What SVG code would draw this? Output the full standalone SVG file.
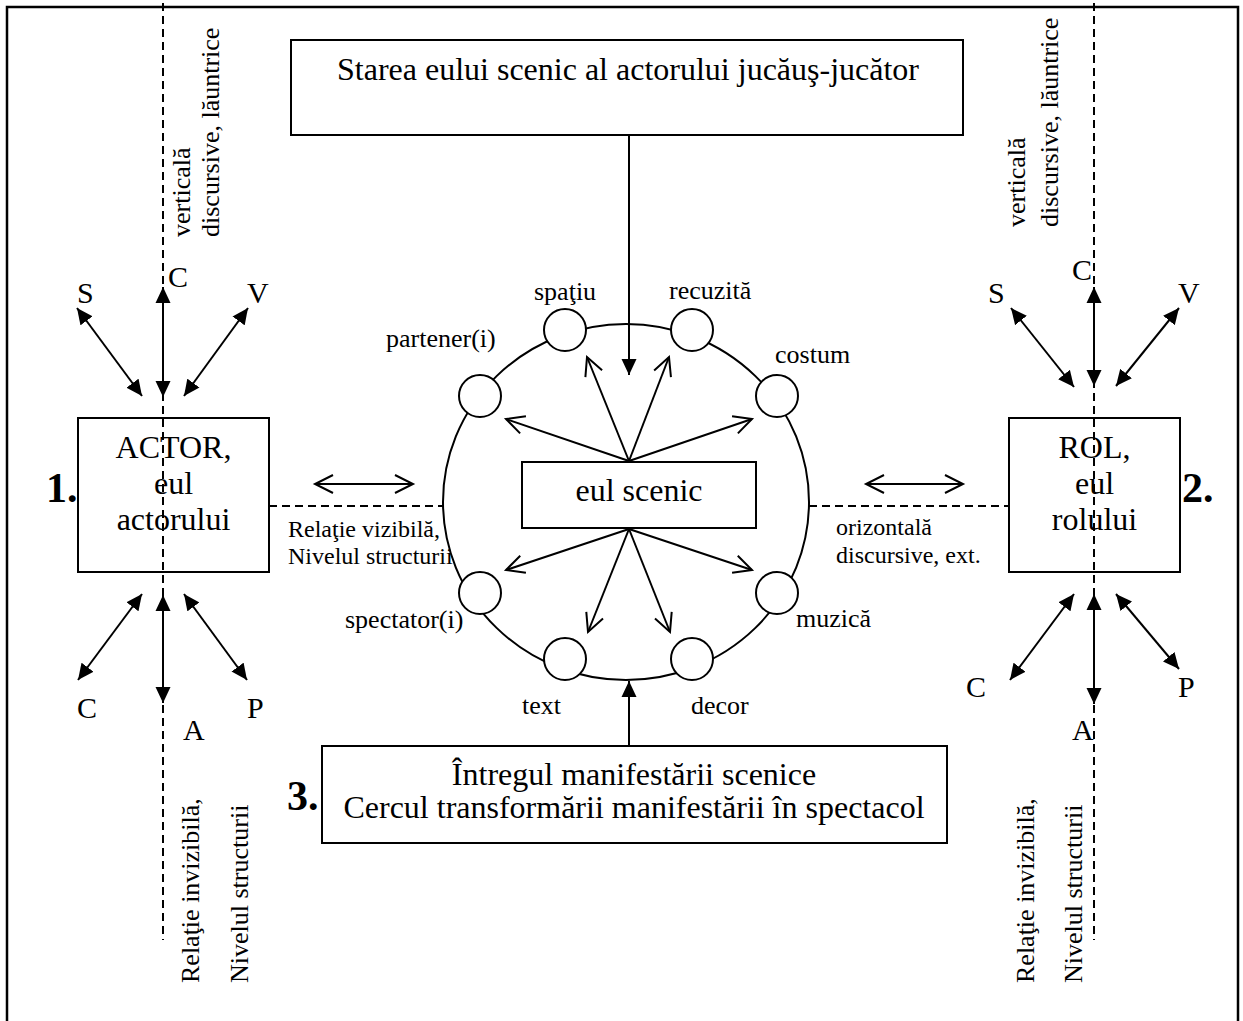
<svg xmlns="http://www.w3.org/2000/svg" width="1243" height="1021" viewBox="0 0 1243 1021">
<defs>
<style>
text{font-family:"Liberation Serif","Times New Roman",serif;fill:#000}
.box{fill:none;stroke:#000;stroke-width:2}
.ln{stroke:#000;stroke-width:2;fill:none}
.dash{stroke:#000;stroke-width:2;stroke-dasharray:8 5;fill:none}
.dbl{marker-start:url(#fa);marker-end:url(#fa)}
.one{marker-end:url(#fa)}
.open{marker-end:url(#oa)}
.open2{marker-start:url(#oa);marker-end:url(#oa)}
.sc{fill:#fff;stroke:#000;stroke-width:2}
.t32{font-size:32px}
.t30{font-size:30px}
.t26{font-size:26px}
.t24{font-size:24px}
.num{font-size:42px;font-weight:bold}
.mid{text-anchor:middle}
</style>
<marker id="fa" viewBox="0 0 16 16" refX="16" refY="8" markerWidth="16" markerHeight="16" markerUnits="userSpaceOnUse" orient="auto-start-reverse"><path d="M0,0.5 L16,8 L0,15.5 z" fill="#000"/></marker>
<marker id="oa" viewBox="-2 -2 24 22" refX="18" refY="9" markerWidth="24" markerHeight="22" markerUnits="userSpaceOnUse" orient="auto-start-reverse" overflow="visible"><path d="M0,0 L18,9 L0,18" fill="none" stroke="#000" stroke-width="2"/></marker>
</defs>
<rect x="7" y="7" width="1231" height="1040" fill="none" stroke="#000" stroke-width="2.5"/>

<g id="connectors">
<line class="dash" x1="163" y1="3" x2="163" y2="940"/>
<line class="dash" x1="1094" y1="3" x2="1094" y2="940"/>
<line class="dash" x1="269" y1="506" x2="443" y2="506"/>
<line class="dash" x1="809" y1="506" x2="1009" y2="506"/>
<line class="ln open2" x1="315" y1="484" x2="413" y2="484"/>
<line class="ln open2" x1="866" y1="484" x2="963" y2="484"/>
<line class="ln one" x1="629" y1="135" x2="629" y2="375"/>
<line class="ln one" x1="629" y1="746" x2="629" y2="681"/>
<line class="ln open" x1="629" y1="461" x2="506" y2="419"/>
<line class="ln open" x1="629" y1="461" x2="587" y2="357"/>
<line class="ln open" x1="629" y1="461" x2="669" y2="357"/>
<line class="ln open" x1="629" y1="461" x2="752" y2="419"/>
<line class="ln open" x1="629" y1="529" x2="506" y2="570"/>
<line class="ln open" x1="629" y1="529" x2="588" y2="632"/>
<line class="ln open" x1="629" y1="529" x2="670" y2="632"/>
<line class="ln open" x1="629" y1="529" x2="752" y2="570"/>
<line class="ln dbl" x1="77" y1="308" x2="142" y2="396"/>
<line class="ln dbl" x1="163" y1="287" x2="163" y2="397"/>
<line class="ln dbl" x1="248" y1="308" x2="184" y2="396"/>
<line class="ln dbl" x1="142" y1="594" x2="78" y2="680"/>
<line class="ln dbl" x1="163" y1="595" x2="163" y2="703"/>
<line class="ln dbl" x1="184" y1="594" x2="247" y2="680"/>
<line class="ln dbl" x1="1011" y1="308" x2="1074" y2="387"/>
<line class="ln dbl" x1="1094" y1="287" x2="1094" y2="386"/>
<line class="ln dbl" x1="1179" y1="308" x2="1116" y2="386"/>
<line class="ln dbl" x1="1074" y1="594" x2="1010" y2="680"/>
<line class="ln dbl" x1="1094" y1="594" x2="1094" y2="704"/>
<line class="ln dbl" x1="1116" y1="594" x2="1179" y2="669"/>
</g>

<g id="top-box">
<rect class="box" x="291" y="40" width="672" height="95"/>
<text class="t32 mid" x="628" y="80">Starea eului scenic al actorului jucăuş-jucător</text>
</g>

<g id="actor">
<rect class="box" x="78" y="418" width="191" height="154"/>
<text class="t32 mid" x="173.5" y="458">ACTOR,</text>
<text class="t32 mid" x="173.5" y="494">eul</text>
<text class="t32 mid" x="173.5" y="530">actorului</text>
<text class="num" x="46" y="502">1.</text>
</g>

<g id="rol">
<rect class="box" x="1009" y="418" width="171" height="154"/>
<text class="t32 mid" x="1094.5" y="458">ROL,</text>
<text class="t32 mid" x="1094.5" y="494">eul</text>
<text class="t32 mid" x="1094.5" y="530">rolului</text>
<text class="num" x="1182" y="502">2.</text>
</g>

<g id="bottom-box">
<rect class="box" x="322" y="746" width="625" height="97"/>
<text class="t32 mid" x="634" y="785">Întregul manifestării scenice</text>
<text class="t32 mid" x="634" y="818">Cercul transformării manifestării în spectacol</text>
<text class="num" x="287" y="810">3.</text>
</g>

<g id="relation-labels">
<text class="t24" x="288" y="537">Relaţie vizibilă,</text>
<text class="t24" x="288" y="564">Nivelul structurii</text>
<text class="t24" x="836" y="535">orizontală</text>
<text class="t24" x="836" y="563">discursive, ext.</text>
<text class="t26" transform="translate(190,237) rotate(-90)">verticală</text>
<text class="t26" transform="translate(219,237) rotate(-90)">discursive, lăuntrice</text>
<text class="t26" transform="translate(1025,227) rotate(-90)">verticală</text>
<text class="t26" transform="translate(1058,227) rotate(-90)">discursive, lăuntrice</text>
<text class="t26" transform="translate(199,983) rotate(-90)">Relaţie invizibilă,</text>
<text class="t26" transform="translate(248,983) rotate(-90)">Nivelul structurii</text>
<text class="t26" transform="translate(1034,983) rotate(-90)">Relaţie invizibilă,</text>
<text class="t26" transform="translate(1082,983) rotate(-90)">Nivelul structurii</text>
</g>

<g id="axis-letters" class="t30">
<text class="t30" x="77" y="303">S</text>
<text class="t30" x="168" y="287">C</text>
<text class="t30" x="247" y="303">V</text>
<text class="t30" x="77" y="718">C</text>
<text class="t30" x="183" y="740">A</text>
<text class="t30" x="247" y="718">P</text>
<text class="t30" x="988" y="303">S</text>
<text class="t30" x="1072" y="280">C</text>
<text class="t30" x="1178" y="303">V</text>
<text class="t30" x="966" y="697">C</text>
<text class="t30" x="1072" y="740">A</text>
<text class="t30" x="1178" y="697">P</text>
</g>

<g id="scenic-circle">
<ellipse cx="626" cy="502" rx="183" ry="178" fill="none" stroke="#000" stroke-width="2"/>
</g>

<g id="spatiu"><circle class="sc" cx="565" cy="330" r="21"/><text class="t26" x="534" y="300">spaţiu</text></g>
<g id="recuzita"><circle class="sc" cx="692" cy="330" r="21"/><text class="t26" x="669" y="299">recuzită</text></g>
<g id="partener"><circle class="sc" cx="480" cy="396" r="21"/><text class="t26" x="386" y="347">partener(i)</text></g>
<g id="costum"><circle class="sc" cx="777" cy="396" r="21"/><text class="t26" x="775" y="363">costum</text></g>
<g id="spectator"><circle class="sc" cx="480" cy="593" r="21"/><text class="t26" x="345" y="628">spectator(i)</text></g>
<g id="muzica"><circle class="sc" cx="777" cy="593" r="21"/><text class="t26" x="796" y="627">muzică</text></g>
<g id="text-node"><circle class="sc" cx="565" cy="659" r="21"/><text class="t26" x="522" y="714">text</text></g>
<g id="decor"><circle class="sc" cx="692" cy="659" r="21"/><text class="t26" x="691" y="714">decor</text></g>

<g id="eul-scenic">
<rect x="522" y="462" width="234" height="66" fill="#fff" stroke="#000" stroke-width="2"/>
<text class="t32 mid" x="639" y="501">eul scenic</text>
</g>
</svg>
